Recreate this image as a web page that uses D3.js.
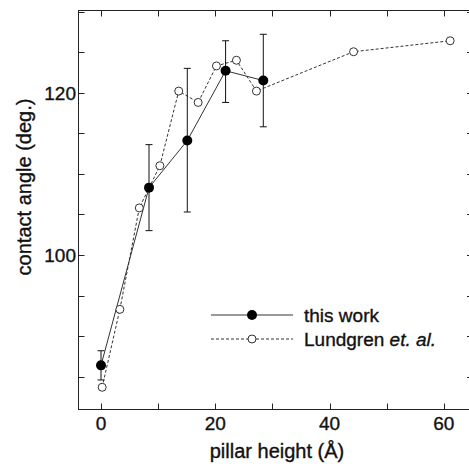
<!DOCTYPE html>
<html>
<head>
<meta charset="utf-8">
<script src="https://cdn.jsdelivr.net/npm/d3@7"></script>
<style>
  body { margin: 0; background: #fff; }
  svg { display: block; font-family: "Liberation Sans", Arial, sans-serif; }
  svg text { fill: #111; stroke: #111; stroke-width: 0.35px; }
</style>
</head>
<body>
<div class="vis-chart"></div>
<script>
// this work (filled circles with error bars)
const workX = [0, 8.4, 15.1, 21.8, 28.4];
const workY = [86.4, 108.3, 114.1, 122.7, 121.5];
const workLo = [84.6, 103.0, 105.3, 118.8, 115.8];
const workHi = [88.2, 113.6, 123.0, 126.4, 127.2];

// Lundgren et. al. (open circles)
const lundX = [0.2, 3.3, 6.7, 10.3, 13.6, 17.0, 20.2, 23.7, 27.2, 44.2, 61.1];
const lundY = [83.7, 93.3, 105.8, 111.0, 120.2, 118.8, 123.3, 124.0, 120.2, 125.05, 126.4];

const xTicks = [0, 20, 40, 60];
const xMinor = [0, 10, 20, 30, 40, 50, 60];
const yTicks = [100, 120];
const yMinor = [85, 90, 95, 100, 105, 110, 115, 120, 125, 130];

const width = 469, height = 466;
const m = { left: 78.5, right: 473, top: 10.5, bottom: 409.5 };

const svg = d3.select(".vis-chart")
  .append("svg")
  .attr("width", width)
  .attr("height", height);

const x = d3.scaleLinear().domain([-3.94, 65.1]).range([m.left, m.right]);
const y = d3.scaleLinear().domain([80.96, 130.13]).range([m.bottom, m.top]);

const ink = "#222";
const tl = 6;

// frame
svg.append("rect")
  .attr("x", m.left).attr("y", m.top)
  .attr("width", m.right - m.left).attr("height", m.bottom - m.top)
  .attr("fill", "none").attr("stroke", ink).attr("stroke-width", 1);

// ticks (inward on all sides)
const tickG = svg.append("g").attr("stroke", ink).attr("stroke-width", 1);
xMinor.forEach((v) => {
  const px = Math.round(x(v)) + 0.5;
  tickG.append("line").attr("x1", px).attr("x2", px).attr("y1", m.bottom).attr("y2", m.bottom - tl);
  tickG.append("line").attr("x1", px).attr("x2", px).attr("y1", m.top).attr("y2", m.top + tl);
});
yMinor.forEach((v) => {
  const py = Math.round(y(v)) + 0.5;
  tickG.append("line").attr("x1", m.left).attr("x2", m.left + tl).attr("y1", py).attr("y2", py);
  tickG.append("line").attr("x1", m.right).attr("x2", m.right - tl).attr("y1", py).attr("y2", py);
});

// tick labels
svg.selectAll(".xlab")
  .data(xTicks)
  .enter()
  .append("text")
  .attr("x", (d) => x(d))
  .attr("y", 430)
  .attr("text-anchor", "middle")
  .attr("font-size", "19px")
  .text((d) => d);

svg.selectAll(".ylab")
  .data(yTicks)
  .enter()
  .append("text")
  .attr("x", 76)
  .attr("y", (d) => y(d) + 7)
  .attr("text-anchor", "end")
  .attr("font-size", "19px")
  .text((d) => d);

// axis titles
svg.append("text")
  .attr("x", 277)
  .attr("y", 458)
  .attr("text-anchor", "middle")
  .attr("font-size", "20px")
  .text("pillar height (Å)");

svg.append("text")
  .attr("transform", "translate(31,187) rotate(-90)")
  .attr("text-anchor", "middle")
  .attr("font-size", "20px")
  .text("contact angle (deg.)");

const lund = lundX.map((d, i) => ({ x: d, y: lundY[i] }));
const work = workX.map((d, i) => ({ x: d, y: workY[i], lo: workLo[i], hi: workHi[i] }));

const line = d3.line().x((d) => x(d.x)).y((d) => y(d.y));

// Lundgren line
svg.append("path")
  .datum(lund)
  .attr("d", line)
  .attr("fill", "none")
  .attr("stroke", "#333")
  .attr("stroke-width", 1)
  .attr("stroke-dasharray", "3,2");

// this work line
svg.append("path")
  .datum(work)
  .attr("d", line)
  .attr("fill", "none")
  .attr("stroke", "#333")
  .attr("stroke-width", 1);

svg.selectAll(".lundPt")
  .data(lund)
  .enter()
  .append("circle")
  .attr("cx", (d) => x(d.x))
  .attr("cy", (d) => y(d.y))
  .attr("r", 4)
  .attr("fill", "#fff")
  .attr("stroke", "#333")
  .attr("stroke-width", 1);

// error bars
const errG = svg.selectAll(".err")
  .data(work)
  .enter()
  .append("g")
  .attr("stroke", "#111")
  .attr("stroke-width", 1);
errG.append("line")
  .attr("x1", (d) => x(d.x)).attr("x2", (d) => x(d.x))
  .attr("y1", (d) => y(d.lo)).attr("y2", (d) => y(d.hi));
errG.append("line")
  .attr("x1", (d) => x(d.x) - 3.5).attr("x2", (d) => x(d.x) + 3.5)
  .attr("y1", (d) => y(d.lo)).attr("y2", (d) => y(d.lo));
errG.append("line")
  .attr("x1", (d) => x(d.x) - 3.5).attr("x2", (d) => x(d.x) + 3.5)
  .attr("y1", (d) => y(d.hi)).attr("y2", (d) => y(d.hi));

svg.selectAll(".workPt")
  .data(work)
  .enter()
  .append("circle")
  .attr("cx", (d) => x(d.x))
  .attr("cy", (d) => y(d.y))
  .attr("r", 5)
  .attr("fill", "#000");

// legend
const legend = svg.append("g");
legend.append("line")
  .attr("x1", 211).attr("x2", 293).attr("y1", 315).attr("y2", 315)
  .attr("stroke", "#333").attr("stroke-width", 1);
legend.append("circle")
  .attr("cx", 252).attr("cy", 315).attr("r", 5).attr("fill", "#000");
legend.append("text")
  .attr("x", 304).attr("y", 322)
  .attr("font-size", "19px")
  .text("this work");

legend.append("line")
  .attr("x1", 211).attr("x2", 293).attr("y1", 339).attr("y2", 339)
  .attr("stroke", "#333").attr("stroke-width", 1)
  .attr("stroke-dasharray", "3,2");
legend.append("circle")
  .attr("cx", 252).attr("cy", 339).attr("r", 4)
  .attr("fill", "#fff").attr("stroke", "#333").attr("stroke-width", 1);
const lt = legend.append("text")
  .attr("x", 304).attr("y", 346)
  .attr("font-size", "19px");
lt.append("tspan").text("Lundgren ");
lt.append("tspan").attr("font-style", "italic").text("et. al.");
</script>
</body>
</html>
